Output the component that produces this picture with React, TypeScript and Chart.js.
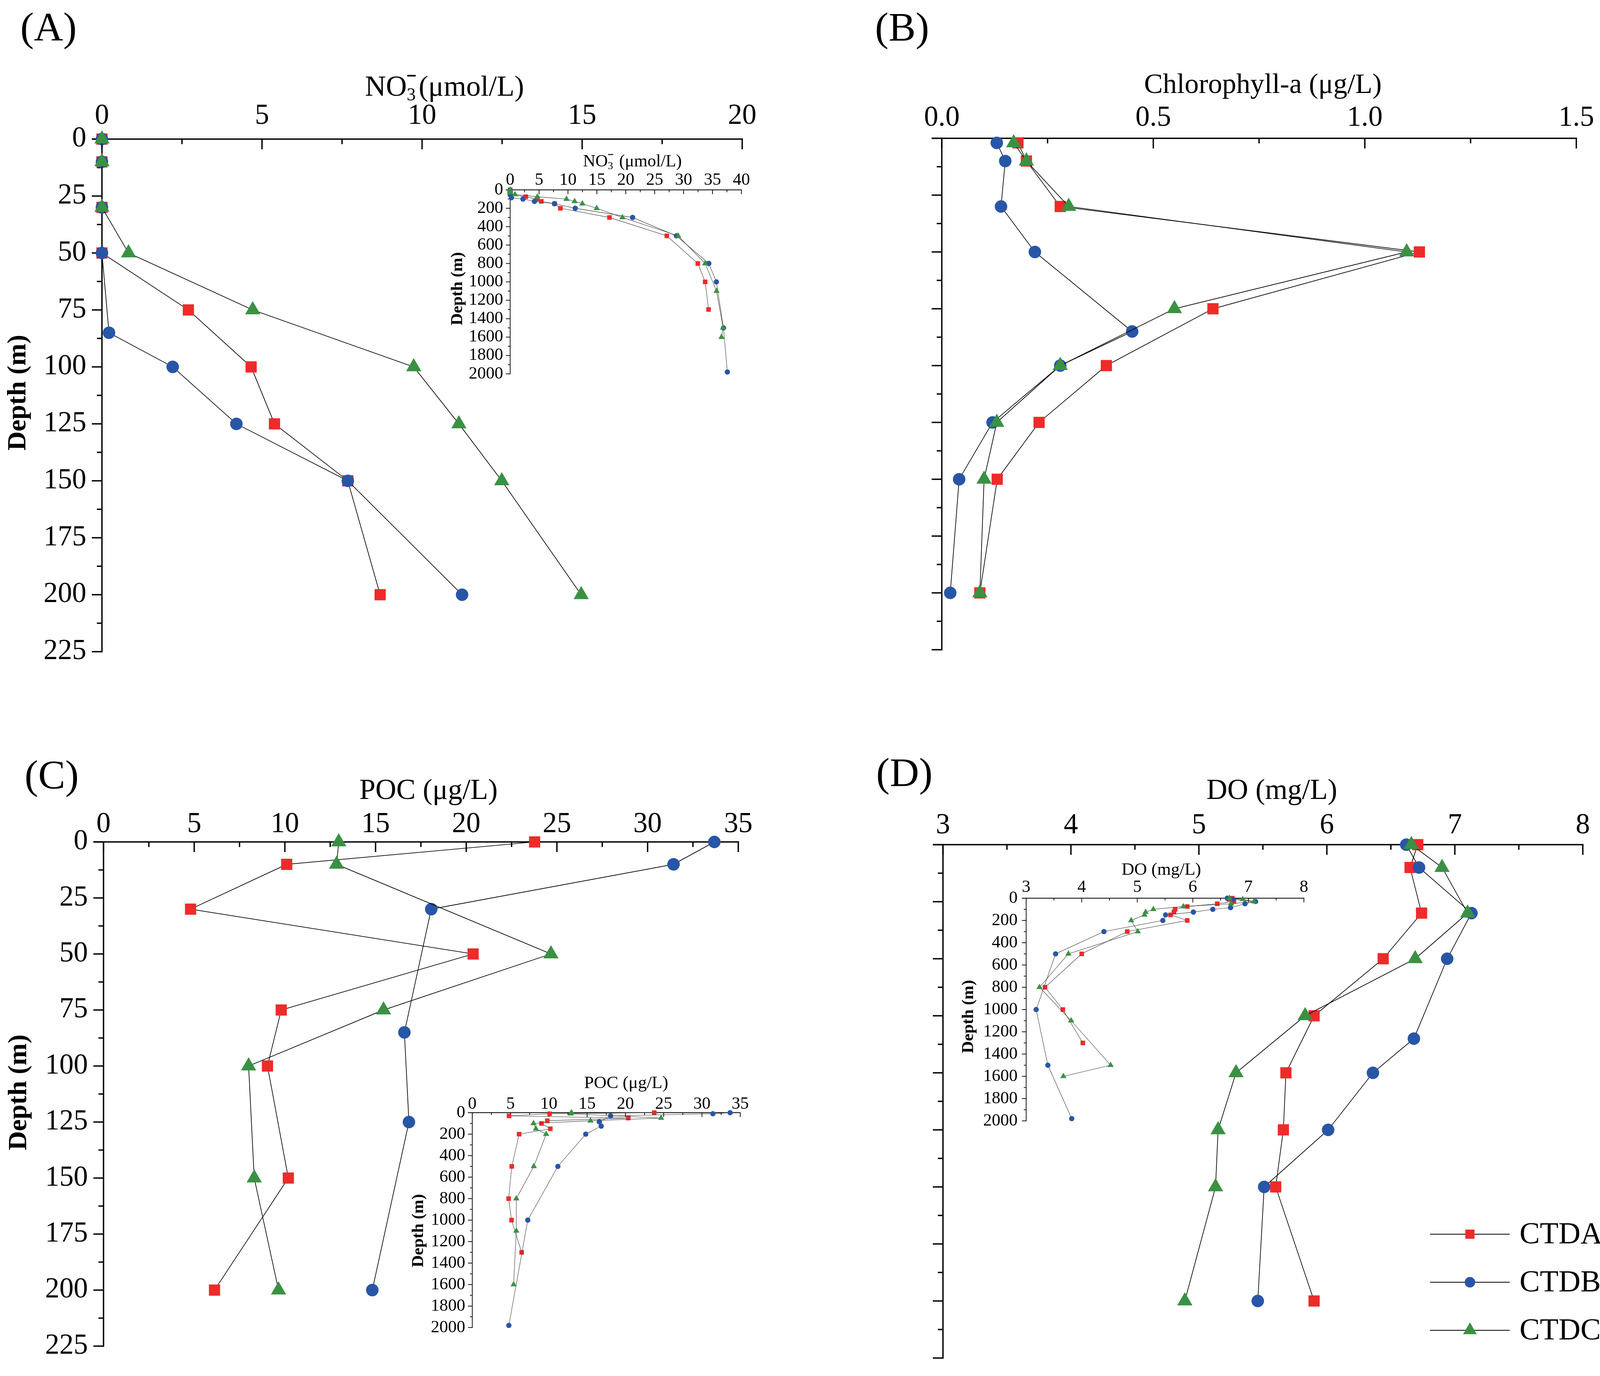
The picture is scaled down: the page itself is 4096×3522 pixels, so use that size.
import React, { useEffect, useRef } from 'react';
import { Chart, registerables } from 'chart.js';

Chart.register(...registerables);

const SERIF = '"Liberation Serif", "Times New Roman", Times, serif';

// ---------------- DATA ----------------
// Sampling depths (m) of each station
const depthCTDA = [0, 10, 30, 50, 75, 100, 125, 150, 200, 300, 500, 800, 1000, 1300];
const depthCTDB = [0, 10, 30, 50, 85, 100, 125, 150, 200, 300, 500, 800, 1000, 1500, 1980];
const depthCTDC = [0, 10, 30, 50, 75, 100, 125, 150, 200, 300, 500, 800, 1100, 1500, 1600];

// Chlorophyll-a sampling depths (surface sample plotted at ~2 m)
const chlDepthCTDA = [2, 10, 30, 50, 75, 100, 125, 150, 200];
const chlDepthCTDB = [2, 10, 30, 50, 85, 100, 125, 150, 200];
const chlDepthCTDC = [2, 10, 30, 50, 75, 100, 125, 150, 200];

// NO3- (umol/L)
const no3CTDA = [0, 0, 0, 0, 2.7, 4.66, 5.39, 7.68, 8.69, 17.18, 27.1, 32.46, 33.73, 34.32];
const no3CTDB = [0, 0, 0, 0, 0.22, 2.21, 4.2, 7.68, 11.25, 21.18, 28.76, 34.36, 35.67, 36.9, 37.57];
const no3CTDC = [0, 0, 0, 0.83, 4.71, 9.74, 11.15, 12.49, 14.97, 19.42, 29.06, 33.73, 35.7, 36.83, 36.56];

// Chlorophyll-a (ug/L)
const chlCTDA = [0.18, 0.2, 0.28, 1.129, 0.641, 0.389, 0.23, 0.131, 0.09];
const chlCTDB = [0.13, 0.15, 0.14, 0.22, 0.45, 0.28, 0.12, 0.041, 0.02];
const chlCTDC = [0.17, 0.2, 0.3, 1.099, 0.55, 0.28, 0.13, 0.1, 0.09];

// POC (ug/L)
const pocCTDA = [23.77, 10.1, 4.8, 20.38, 9.8, 9.04, null, 10.19, 6.12, null, 5.16, 4.75, 5.13, 6.45];
const pocCTDB = [33.68, 31.43, 18.07, null, 16.59, null, 16.84, null, 14.82, null, 11.18, null, 7.25, null, 4.78];
const pocCTDC = [12.97, 12.85, null, 24.67, 15.44, 8.0, null, 8.31, 9.65, null, 8.04, 5.75, 5.75, null, 5.4];

// DO (mg/L)
const doCTDA = [6.71, 6.65, 6.74, 6.44, 5.9, 5.68, 5.66, 5.6, 5.9, 4.82, 4.0, 3.34, 3.66, 4.02];
const doCTDB = [6.62, 6.72, 7.13, 6.94, 6.68, 6.36, 6.01, 5.51, 5.46, 4.4, 3.53, null, 3.18, 3.39, 3.82];
const doCTDC = [6.66, 6.9, 7.1, 6.69, 5.83, 5.29, 5.15, 5.13, 4.89, 5.01, 3.76, 3.24, 3.81, 4.52, 3.67];

const stationLabels = ['CTDA', 'CTDB', 'CTDC'];
const stationColors = ['#EE2B2A', '#2856A7', '#3A9143'];
const stationStyles: ('rect' | 'circle' | 'triangle')[] = ['rect', 'circle', 'triangle'];

// ---------------- TYPES ----------------
type Style = 'rect' | 'circle' | 'triangle';
type Series = { label: string; color: string; style: Style; depths: number[]; values: (number | null)[] };
type TextItem = {
  text: string;
  x: number;
  y: number;
  size: number;
  bold?: boolean;
  align?: CanvasTextAlign;
  rotate?: boolean;
  no3?: boolean;
};
type Panel = {
  key: string;
  canvas: [number, number, number, number];
  area: [number, number, number, number];
  xMin: number;
  xMax: number;
  xMajor: number;
  xMinor: number;
  xDecimals: number;
  yMax: number;
  yMajor: number;
  yMinor: number;
  yLabels: boolean;
  tickSize: number;
  xPad: number;
  yPad: number;
  majorLen: number;
  minorLen: number;
  axisLw: number;
  lineColor: string;
  lineWidth: number;
  radius: Record<Style, number>;
  series: Series[];
  texts: TextItem[];
  legend?: boolean;
};

function makeSeries(depths: number[][], values: (number | null)[][]): Series[] {
  return stationLabels.map((label, i) => ({
    label,
    color: stationColors[i],
    style: stationStyles[i],
    depths: depths[i],
    values: values[i],
  }));
}

const no3Series = makeSeries([depthCTDA, depthCTDB, depthCTDC], [no3CTDA, no3CTDB, no3CTDC]);
const chlSeries = makeSeries([chlDepthCTDA, chlDepthCTDB, chlDepthCTDC], [chlCTDA, chlCTDB, chlCTDC]);
const pocSeries = makeSeries([depthCTDA, depthCTDB, depthCTDC], [pocCTDA, pocCTDB, pocCTDC]);
const doSeries = makeSeries([depthCTDA, depthCTDB, depthCTDC], [doCTDA, doCTDB, doCTDC]);

const mainCommon = {
  yMax: 225,
  yMajor: 25,
  yMinor: 12.5,
  tickSize: 73,
  yPad: 40,
  majorLen: 26,
  minorLen: 13,
  axisLw: 3.5,
  lineColor: '#000',
  lineWidth: 1.7,
  radius: { rect: 20.3, circle: 16, triangle: 22.5 },
};

const insetCommon = {
  yMax: 2000,
  yMajor: 200,
  yMinor: 100,
  yLabels: true,
  tickSize: 44,
  majorLen: 11,
  minorLen: 6,
  axisLw: 1.8,
  lineColor: '#3a3a3a',
  lineWidth: 1.1,
  radius: { rect: 8.3, circle: 6.8, triangle: 9.2 },
};

const panels: Panel[] = [
  {
    key: 'A',
    ...mainCommon,
    canvas: [0, 0, 2048, 1761],
    area: [261, 356, 1900, 1668],
    xMin: 0, xMax: 20, xMajor: 5, xMinor: 2.5, xDecimals: 0,
    yLabels: true, xPad: 22,
    series: no3Series,
    texts: [
      { text: '(A)', x: 52, y: 104, size: 104, align: 'left' },
      { text: '(μmol/L)', x: 1138, y: 245, size: 74, no3: true },
      { text: 'Depth (m)', x: 47, y: 1005, size: 68, bold: true, rotate: true },
    ],
  },
  {
    key: 'Ai',
    ...insetCommon,
    canvas: [1040, 330, 910, 700],
    area: [1306, 486, 1898, 957],
    xMin: 0, xMax: 40, xMajor: 5, xMinor: 2.5, xDecimals: 0,
    xPad: 3, yPad: 18,
    series: no3Series,
    texts: [
      { text: ' (μmol/L)', x: 1619, y: 426, size: 44, no3: true },
      { text: 'Depth (m)', x: 1172, y: 739, size: 43, bold: true, rotate: true },
    ],
  },
  {
    key: 'B',
    ...mainCommon,
    canvas: [2048, 0, 2048, 1761],
    area: [2411, 354, 4043, 1663],
    xMin: 0, xMax: 1.5, xMajor: 0.5, xMinor: 0.25, xDecimals: 1,
    yLabels: false, xPad: 15,
    series: chlSeries,
    texts: [
      { text: '(B)', x: 2240, y: 104, size: 104, align: 'left' },
      { text: 'Chlorophyll-a (μg/L)', x: 3233, y: 238, size: 72 },
    ],
  },
  {
    key: 'C',
    ...mainCommon,
    canvas: [0, 1761, 2048, 1761],
    area: [265, 2155, 1890, 3458],
    xMin: 0, xMax: 35, xMajor: 5, xMinor: 2.5, xDecimals: 0,
    yLabels: true, xPad: 8,
    series: pocSeries,
    texts: [
      { text: '(C)', x: 63, y: 2018, size: 104, align: 'left' },
      { text: 'POC (μg/L)', x: 1097, y: 2045, size: 74 },
      { text: 'Depth (m)', x: 49, y: 2796, size: 68, bold: true, rotate: true },
    ],
  },
  {
    key: 'Ci',
    ...insetCommon,
    canvas: [990, 2700, 970, 780],
    area: [1209, 2848, 1895, 3398],
    xMin: 0, xMax: 35, xMajor: 5, xMinor: 2.5, xDecimals: 0,
    xPad: 0, yPad: 18,
    series: pocSeries,
    texts: [
      { text: 'POC (μg/L)', x: 1603, y: 2785, size: 45 },
      { text: 'Depth (m)', x: 1072, y: 3150, size: 43, bold: true, rotate: true },
    ],
  },
  {
    key: 'D',
    ...mainCommon,
    canvas: [2048, 1761, 2048, 1761],
    area: [2414, 2162, 4052, 3476],
    xMin: 3, xMax: 8, xMajor: 1, xMinor: 0.5, xDecimals: 0,
    yLabels: false, xPad: 12,
    series: doSeries,
    legend: true,
    texts: [
      { text: '(D)', x: 2243, y: 2012, size: 104, align: 'left' },
      { text: 'DO (mg/L)', x: 3256, y: 2045, size: 74 },
    ],
  },
  {
    key: 'Di',
    ...insetCommon,
    canvas: [2420, 2170, 980, 760],
    area: [2627, 2299, 3338, 2869],
    xMin: 3, xMax: 8, xMajor: 1, xMinor: 0.5, xDecimals: 0,
    xPad: 6, yPad: 22,
    series: doSeries,
    texts: [
      { text: 'DO (mg/L)', x: 2973, y: 2239, size: 45 },
      { text: 'Depth (m)', x: 2480, y: 2602, size: 43, bold: true, rotate: true },
    ],
  },
];

// legend layout (page coordinates)
const legendRows = [3159, 3282, 3405];
const legendLine = [3661, 3865];
const legendTextX = 3890;
const legendFont = 78;

function drawMarker(ctx: CanvasRenderingContext2D, style: Style, x: number, y: number, size: number) {
  ctx.beginPath();
  if (style === 'rect') {
    ctx.rect(x - size / 2, y - size / 2, size, size);
  } else if (style === 'circle') {
    ctx.arc(x, y, size / 2, 0, Math.PI * 2);
  } else {
    const r = size / Math.sqrt(3);
    ctx.moveTo(x, y - r);
    ctx.lineTo(x + (r * Math.sqrt(3)) / 2, y + r / 2);
    ctx.lineTo(x - (r * Math.sqrt(3)) / 2, y + r / 2);
    ctx.closePath();
  }
  ctx.fill();
}

function drawNO3(ctx: CanvasRenderingContext2D, t: TextItem, x: number, y: number) {
  const big = `${t.size}px ${SERIF}`;
  const small = `${Math.round(t.size * 0.62)}px ${SERIF}`;
  ctx.textBaseline = 'alphabetic';
  ctx.textAlign = 'left';
  ctx.font = big;
  const wNO = ctx.measureText('NO').width;
  const wRest = ctx.measureText(t.text).width;
  ctx.font = small;
  const w3 = ctx.measureText('3').width;
  const gap = t.size * 0.1;
  const total = wNO + w3 + gap + wRest;
  const x0 = x - total / 2;
  ctx.font = big;
  ctx.fillText('NO', x0, y);
  ctx.font = small;
  ctx.fillText('3', x0 + wNO, y + t.size * 0.16);
  // superscript minus bar
  ctx.fillRect(x0 + wNO + w3 * 0.05, y - t.size * 0.72, w3 * 0.95, Math.max(1.5, t.size * 0.055));
  ctx.font = big;
  ctx.fillText(t.text, x0 + wNO + w3 + gap, y);
}

function decor(p: Panel) {
  return {
    id: 'decor' + p.key,
    beforeDatasetsDraw(chart: any) {
      const { ctx, chartArea: a, scales } = chart;
      const xs = scales.x;
      const ys = scales.y;
      ctx.save();
      ctx.strokeStyle = '#000';
      ctx.lineWidth = p.axisLw;
      ctx.lineCap = 'butt';
      const seg = (x1: number, y1: number, x2: number, y2: number) => {
        ctx.beginPath();
        ctx.moveTo(x1, y1);
        ctx.lineTo(x2, y2);
        ctx.stroke();
      };
      seg(a.left, a.top - p.axisLw / 2, a.left, a.bottom + p.axisLw / 2);
      seg(a.left - p.majorLen, a.top, a.right + p.axisLw / 2, a.top);
      const nX = Math.round((p.xMax - p.xMin) / p.xMinor);
      const rX = Math.round(p.xMajor / p.xMinor);
      for (let i = 0; i <= nX; i++) {
        const v = p.xMin + i * p.xMinor;
        const px = xs.getPixelForValue(v);
        const len = i % rX === 0 ? p.majorLen : p.minorLen;
        seg(px, a.top, px, a.top + len);
      }
      const nY = Math.round(p.yMax / p.yMinor);
      const rY = Math.round(p.yMajor / p.yMinor);
      for (let i = 0; i <= nY; i++) {
        const v = i * p.yMinor;
        const py = ys.getPixelForValue(v);
        const len = i % rY === 0 ? p.majorLen : p.minorLen;
        seg(a.left - len, py, a.left, py);
      }
      ctx.restore();
    },
    afterDraw(chart: any) {
      const ctx: CanvasRenderingContext2D = chart.ctx;
      const [cx, cy] = p.canvas;
      ctx.save();
      ctx.fillStyle = '#000';
      for (const t of p.texts) {
        const x = t.x - cx;
        const y = t.y - cy;
        if (t.no3) {
          drawNO3(ctx, t, x, y);
          continue;
        }
        ctx.font = `${t.bold ? 'bold ' : ''}${t.size}px ${SERIF}`;
        ctx.textAlign = t.align ?? 'center';
        if (t.rotate) {
          ctx.textBaseline = 'middle';
          ctx.save();
          ctx.translate(x, y);
          ctx.rotate(-Math.PI / 2);
          ctx.fillText(t.text, 0, 0);
          ctx.restore();
        } else {
          ctx.textBaseline = 'alphabetic';
          ctx.fillText(t.text, x, y);
        }
      }
      if (p.legend) {
        const markerSizes: Record<Style, number> = { rect: 23.5, circle: 27, triangle: 35 };
        stationLabels.forEach((label, i) => {
          const ly = legendRows[i] - cy;
          ctx.strokeStyle = '#000';
          ctx.lineWidth = 2;
          ctx.beginPath();
          ctx.moveTo(legendLine[0] - cx, ly);
          ctx.lineTo(legendLine[1] - cx, ly);
          ctx.stroke();
          ctx.fillStyle = stationColors[i];
          drawMarker(ctx, stationStyles[i], (legendLine[0] + legendLine[1]) / 2 - cx, ly, markerSizes[stationStyles[i]]);
          ctx.fillStyle = '#000';
          ctx.font = `${legendFont}px ${SERIF}`;
          ctx.textAlign = 'left';
          ctx.textBaseline = 'middle';
          ctx.fillText(label, legendTextX - cx, ly + 3);
        });
      }
      ctx.restore();
    },
  };
}

function PanelChart({ p }: { p: Panel }) {
  const ref = useRef<HTMLCanvasElement>(null);
  const [cx, cy, cw, ch] = p.canvas;
  useEffect(() => {
    const canvas = ref.current;
    if (!canvas) return;
    const [l, t, r, b] = p.area;
    const yW = l - cx;
    const xH = t - cy;
    const datasets = [...p.series].reverse().map((s) => ({
      label: s.label,
      data: s.depths
        .map((d, i) => ({ x: s.values[i], y: d }))
        .filter((pt) => pt.x !== null && pt.x !== undefined && pt.y <= p.yMax) as { x: number; y: number }[],
      showLine: true,
      borderColor: p.lineColor,
      borderWidth: p.lineWidth,
      pointStyle: s.style,
      pointRadius: p.radius[s.style],
      pointHoverRadius: p.radius[s.style],
      pointBackgroundColor: s.color,
      pointBorderColor: s.color,
      pointBorderWidth: 0,
      backgroundColor: s.color,
      clip: false as any,
      tension: 0,
      spanGaps: true,
      fill: false,
    }));
    const tickFont = { family: SERIF, size: p.tickSize, lineHeight: 1 };
    const chart = new Chart(canvas, {
      type: 'scatter',
      data: { datasets },
      options: {
        responsive: false,
        animation: false,
        devicePixelRatio: 1,
        events: [],
        layout: { padding: { left: 0, top: 0, right: cx + cw - r, bottom: cy + ch - b } },
        plugins: { legend: { display: false }, tooltip: { enabled: false }, title: { display: false } },
        scales: {
          x: {
            type: 'linear',
            position: 'top',
            min: p.xMin,
            max: p.xMax,
            ticks: {
              stepSize: p.xMajor,
              autoSkip: false,
              maxRotation: 0,
              minRotation: 0,
              padding: p.xPad,
              color: '#000',
              font: tickFont,
              callback: (v: any) => Number(v).toFixed(p.xDecimals),
            },
            grid: { display: false, drawTicks: false, tickLength: 0 },
            border: { display: false },
            afterFit: (s: any) => {
              s.height = xH;
            },
          },
          y: {
            type: 'linear',
            reverse: true,
            min: 0,
            max: p.yMax,
            ticks: {
              display: p.yLabels,
              stepSize: p.yMajor,
              autoSkip: false,
              padding: p.yPad,
              color: '#000',
              font: tickFont,
              callback: (v: any) => String(Math.round(Number(v))),
            },
            grid: { display: false, drawTicks: false, tickLength: 0 },
            border: { display: false },
            afterFit: (s: any) => {
              s.width = yW;
            },
          },
        },
      } as any,
      plugins: [decor(p) as any],
    });
    return () => chart.destroy();
  }, [p]);
  return (
    <canvas
      ref={ref}
      width={cw}
      height={ch}
      style={{ position: 'absolute', left: cx, top: cy, width: cw, height: ch }}
    />
  );
}

export default function App() {
  return (
    <div
      style={{
        position: 'absolute',
        left: 0,
        top: 0,
        width: 4096,
        height: 3522,
        background: '#fff',
        overflow: 'hidden',
      }}
    >
      {panels.map((p) => (
        <PanelChart key={p.key} p={p} />
      ))}
    </div>
  );
}
